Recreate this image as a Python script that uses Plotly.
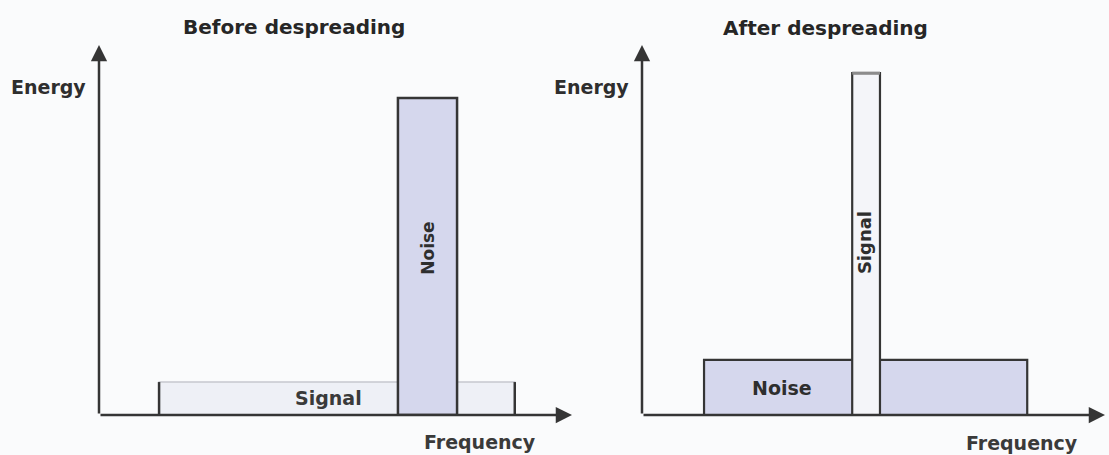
import plotly.graph_objects as go

# ---------------- data ----------------
panel_titles = ["Before despreading", "After despreading"]
axis_y_label = "Energy"
axis_x_label = "Frequency"

# left panel (before despreading): bands drawn back to front
before_names = ["Signal", "Noise"]
before_lo = [12.7, 63.2]
before_hi = [87.9, 75.7]
before_energy = [8.9, 85.7]

# right panel (after despreading)
after_names = ["Noise", "Signal"]
after_lo = [13.4, 45.4]
after_hi = [83.2, 51.4]
after_energy = [14.9, 92.4]

# ---------------- style ----------------
W, H = 1109, 455
DARK = "#353535"
NOISE_FILL = "#d5d7ed"
SIGNAL_FILL_L = "#eef0f6"
SIGNAL_FILL_R = "#f4f5f9"
FONT = "DejaVu Sans"

fig = go.Figure()


def bar(xa, ya, lo, hi, h, fill, line_color, line_w, name):
    fig.add_trace(go.Bar(
        x=[(lo + hi) / 2], y=[h], width=[hi - lo], base=0,
        marker=dict(color=fill, line=dict(color=line_color, width=line_w)),
        xaxis=xa, yaxis=ya, name=name, showlegend=False, hoverinfo="skip",
    ))


def seg(xa, ya, xs, ys, color, w):
    fig.add_trace(go.Scatter(
        x=xs, y=ys, mode="lines", line=dict(color=color, width=w),
        xaxis=xa, yaxis=ya, showlegend=False, hoverinfo="skip",
    ))


# left panel
lo, hi, h = before_lo[0], before_hi[0], before_energy[0]
bar("x", "y", lo, hi, h, SIGNAL_FILL_L, "#c6c8ce", 1.5, before_names[0])
seg("x", "y", [lo, lo, None, hi, hi], [0, h, None, 0, h], DARK, 2.5)
lo, hi, h = before_lo[1], before_hi[1], before_energy[1]
bar("x", "y", lo, hi, h, NOISE_FILL, DARK, 2.5, before_names[1])

# right panel
lo, hi, h = after_lo[0], after_hi[0], after_energy[0]
bar("x2", "y2", lo, hi, h, NOISE_FILL, DARK, 2.2, after_names[0])
lo, hi, h = after_lo[1], after_hi[1], after_energy[1]
bar("x2", "y2", lo, hi, h, SIGNAL_FILL_R, DARK, 2.2, after_names[1])
seg("x2", "y2", [lo, hi], [h, h], "#8c8c8c", 3)

annotations = []


def arrow(xr, yr, x, y):
    annotations.append(dict(
        x=x, y=y, ax=0, ay=0, xref=xr, yref=yr, axref=xr, ayref=yr,
        text="", showarrow=True, arrowhead=2, arrowsize=1.3,
        arrowwidth=2.5, arrowcolor=DARK, standoff=0, startstandoff=0,
    ))


def label(xr, yr, x, y, text, size, xanchor="center", angle=0, color="#2e2e2e"):
    # positions given in axis units (0..100); placed through the axis domain
    annotations.append(dict(
        x=x / 100.0, y=y / 100.0, xref=xr + " domain", yref=yr + " domain",
        text="<b>%s</b>" % text, showarrow=False,
        xanchor=xanchor, yanchor="middle", textangle=angle,
        font=dict(family=FONT, size=size, color=color),
    ))


for xr, yr in (("x", "y"), ("x2", "y2")):
    arrow(xr, yr, 100, 0)
    arrow(xr, yr, 0, 100)
    label(xr, yr, -2.4, 88.6, axis_y_label, 19, xanchor="right")

label("x", "y", 41.3, 104.9, panel_titles[0], 20, color="#262626")
label("x2", "y2", 39.6, 104.6, panel_titles[1], 20, color="#262626")
label("x", "y", 80.5, -7.3, axis_x_label, 19, color="#3a3a3a")
label("x2", "y2", 82.0, -7.6, axis_x_label, 19, color="#3a3a3a")
label("x", "y", 48.6, 4.6, before_names[0], 19, color="#3a3a3a")
label("x", "y", 69.4, 45.0, before_names[1], 17, angle=-90)
label("x2", "y2", 30.2, 7.3, after_names[0], 19)
label("x2", "y2", 48.2, 46.5, after_names[1], 18, angle=-90)

ydom = [(H - 415) / H, (H - 45) / H]
axis_common = dict(visible=False, showgrid=False, zeroline=False, fixedrange=True)
fig.update_layout(
    width=W, height=H,
    margin=dict(l=0, r=0, t=0, b=0),
    paper_bgcolor="#fafbfc", plot_bgcolor="rgba(0,0,0,0)",
    barmode="overlay",
    xaxis=dict(domain=[99 / W, 572 / W], range=[0, 100], **axis_common),
    yaxis=dict(domain=ydom, range=[0, 100], **axis_common),
    xaxis2=dict(domain=[642 / W, 1105 / W], range=[0, 100], anchor="y2", **axis_common),
    yaxis2=dict(domain=ydom, range=[0, 100], anchor="x2", **axis_common),
    annotations=annotations,
    showlegend=False,
)

fig.write_html(
    "out.html",
    config={"displayModeBar": False},
    post_script="document.body.style.margin='0';document.body.style.background='#fafbfc';",
)
